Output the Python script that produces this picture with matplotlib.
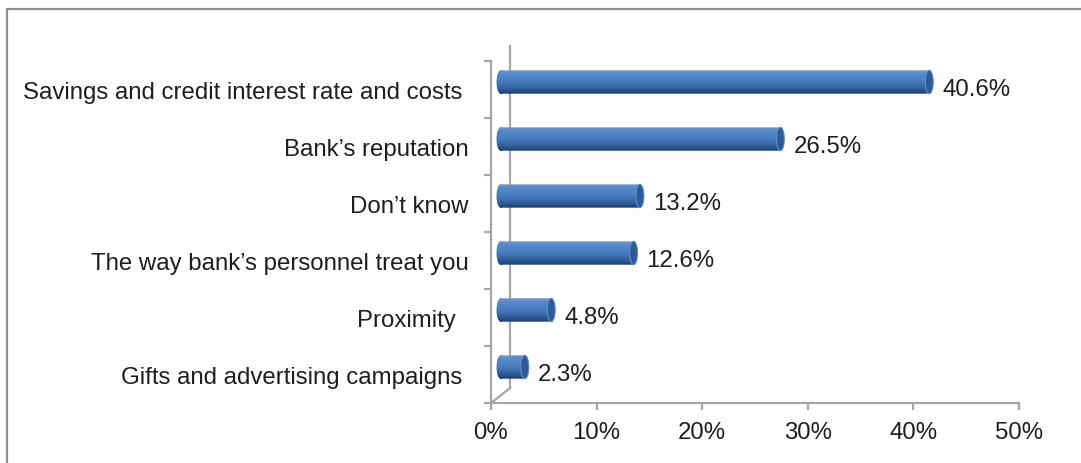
import matplotlib
matplotlib.use("Agg")
import matplotlib.pyplot as plt
import matplotlib.patches as mpatches
import matplotlib.transforms as mtransforms
from matplotlib.lines import Line2D
from matplotlib.path import Path
from matplotlib.colors import LinearSegmentedColormap
import numpy as np

# data
categories = [
    "Savings and credit interest rate and costs ",
    "Bank\u2019s reputation",
    "Don\u2019t know",
    "The way bank\u2019s personnel treat you",
    "Proximity  ",
    "Gifts and advertising campaigns ",
]
values = [40.6, 26.5, 13.2, 12.6, 4.8, 2.3]
x_ticks = [0, 10, 20, 30, 40, 50]
x_tick_labels = ["0%", "10%", "20%", "30%", "40%", "50%"]

W, H, DPI = 1081, 464, 100
GRAY = "#a6a6a6"
TXT = "#1e1e1e"
FS = 17.3

plt.rcParams['font.family'] = ['Liberation Sans', 'DejaVu Sans']

fig = plt.figure(figsize=(W / DPI, H / DPI), dpi=DPI)
ax = fig.add_axes([491 / W, (H - 404) / H, (1019 - 491) / W, (404 - 62) / H])
n = len(categories)
ax.set_xlim(0, 50)
ax.set_ylim(0, n)


def shift(dx, dy):
    # pixel offset on top of data coords (used for the fake 3d depth)
    return ax.transData + mtransforms.ScaledTranslation(dx / DPI, dy / DPI, fig.dpi_scale_trans)


depth_x, depth_y = 19, 15

# spines / ticks
for s in ["top", "right"]:
    ax.spines[s].set_visible(False)
for s in ["left", "bottom"]:
    ax.spines[s].set_color(GRAY)
    ax.spines[s].set_linewidth(1.6)

ax.set_xticks(x_ticks)
ax.set_xticklabels(x_tick_labels)
ax.tick_params(axis="x", length=5, width=1.6, color=GRAY, labelsize=FS, labelcolor=TXT, pad=8)

ax.set_yticks(range(n + 1))
ax.set_yticklabels([])
ax.tick_params(axis="y", which="major", length=5, width=1.6, color=GRAY)
centers = [n - i - 0.5 for i in range(n)]
ax.set_yticks(centers, minor=True)
ax.set_yticklabels(categories, minor=True)
ax.tick_params(axis="y", which="minor", length=0, labelsize=FS, labelcolor=TXT, pad=16)

# back wall edge + diagonals
ax.plot([0, 0], [0, n], color=GRAY, lw=1.6, transform=shift(depth_x, depth_y), zorder=0.5, clip_on=False)
for yy in [0, n]:
    p0 = ax.transData.transform((0, yy))
    ax.add_artist(Line2D([p0[0], p0[0] + depth_x], [p0[1], p0[1] + depth_y],
                         transform=mtransforms.IdentityTransform(), color=GRAY, lw=1.6, zorder=0.5))

# cylinder bars
cmap = LinearSegmentedColormap.from_list(
    "cyl", ["#6f9ad4", "#5589cc", "#4d84c6", "#467bbc", "#3b6caa", "#2b5690", "#1c3c69"])
grad = np.linspace(0, 1, 256).reshape(-1, 1)
bar_h = 0.41
cap_w = 0.76
bt = shift(depth_x / 2, depth_y / 2)

for v, yc in zip(values, centers):
    y0, y1 = yc - bar_h / 2, yc + bar_h / 2
    rect = Path([(0, y0), (v, y0), (v, y1), (0, y1), (0, y0)],
                [Path.MOVETO, Path.LINETO, Path.LINETO, Path.LINETO, Path.CLOSEPOLY])
    left = Path.unit_circle().transformed(mtransforms.Affine2D().scale(cap_w / 2, bar_h / 2).translate(0, yc))
    right = Path.unit_circle().transformed(mtransforms.Affine2D().scale(cap_w / 2, bar_h / 2).translate(v, yc))
    body = mpatches.PathPatch(Path.make_compound_path(rect, left, right), transform=bt,
                              fc="none", ec="none")
    ax.add_patch(body)
    im = ax.imshow(grad, cmap=cmap, extent=(-cap_w / 2, v + cap_w / 2, y0, y1),
                   aspect="auto", transform=bt, zorder=3, interpolation="bilinear")
    im.set_clip_path(body)
    ax.add_patch(mpatches.Ellipse((v, yc), cap_w, bar_h, transform=bt,
                                  fc="#2f5a93", ec="#5f8fcf", lw=0.8, zorder=4))
    ax.text(v, yc, f"{v:.1f}%", transform=shift(22.5, 0.5), ha="left", va="center",
            fontsize=FS, color=TXT, zorder=5)

ax.set_xlim(0, 50)
ax.set_ylim(0, n)

# outer frame
fig.add_artist(mpatches.Rectangle((7 / W, -0.1), 2, (H - 10) / H + 0.1, transform=fig.transFigure,
                                  fill=False, ec="#8c8c8c", lw=1.6))

fig.savefig("out.png", dpi=DPI, facecolor="white")
